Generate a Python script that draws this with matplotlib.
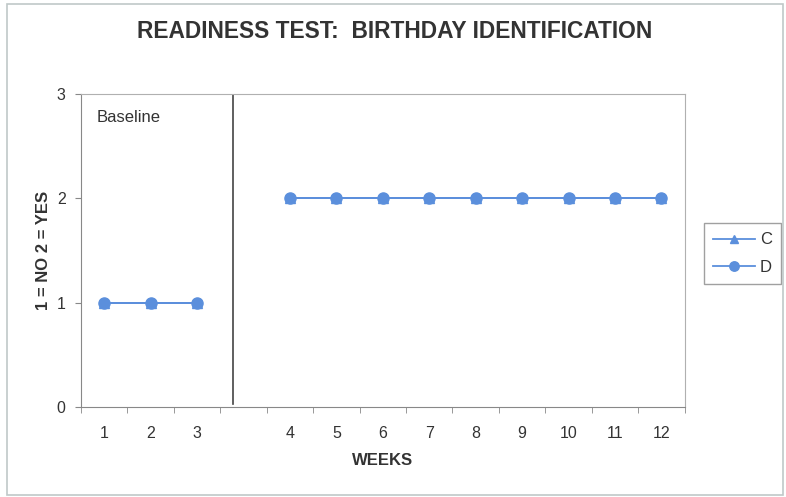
import numpy as np
import matplotlib.pyplot as plt
import matplotlib
from matplotlib.patches import Rectangle

matplotlib.rcParams['font.family'] = ['Liberation Sans', 'DejaVu Sans']

# slots on the x axis: 1-3 baseline, one empty slot, 4-12 intervention
week_labels = ["1", "2", "3", "", "4", "5", "6", "7", "8", "9", "10", "11", "12"]
base_weeks = [1, 2, 3]
base_C = [1, 1, 1]
base_D = [1, 1, 1]
treat_weeks = [4, 5, 6, 7, 8, 9, 10, 11, 12]
treat_C = [2, 2, 2, 2, 2, 2, 2, 2, 2]
treat_D = [2, 2, 2, 2, 2, 2, 2, 2, 2]
phase_line = 3.77

def slot(w):
    # week -> slot position (skip the empty slot after week 3)
    return [x if x <= 3 else x + 1 for x in w]

txt = "#333333"
blue = "#5b8fdc"

fig = plt.figure(figsize=(7.86, 4.97), dpi=100)
ax = fig.add_axes([0.103, 0.181, 0.768, 0.630])

ax.plot(slot(base_weeks), base_C, "-^", color=blue, ms=7, lw=1.3, label="C")
ax.plot(slot(treat_weeks), treat_C, "-^", color=blue, ms=7, lw=1.3)
ax.plot(slot(base_weeks), base_D, "-o", color=blue, ms=8, lw=1.3, label="D")
ax.plot(slot(treat_weeks), treat_D, "-o", color=blue, ms=8, lw=1.3)

ax.axvline(phase_line, ymin=0.01, ymax=1, color="#444444", lw=1.2)
ax.text(0.84, 2.77, "Baseline", fontsize=12, color=txt, va="center")

ax.set_xlim(0.5, 13.5)
ax.set_ylim(0, 3)
ax.set_yticks([0, 1, 2, 3])
ax.set_xticks(np.arange(1, 14))
ax.set_xticklabels(week_labels)
ax.set_xticks(np.arange(0.5, 14, 1), minor=True)
ax.tick_params(axis="x", which="major", length=0, pad=14, labelsize=11.5, labelcolor=txt)
ax.tick_params(axis="x", which="minor", length=4, color="#888888")
ax.tick_params(axis="y", length=4, color="#888888", labelsize=11.5, labelcolor=txt, pad=7)

for s in ["left", "bottom"]:
    ax.spines[s].set_color("#888888")
for s in ["top", "right"]:
    ax.spines[s].set_color("#b0b0b0")

ax.set_xlabel("WEEKS", fontsize=12, fontweight="bold", color=txt, labelpad=8)
ax.set_ylabel("1 = NO 2 = YES", fontsize=12, fontweight="bold", color=txt, labelpad=4)
fig.text(0.5026, 0.936, "READINESS TEST:  BIRTHDAY IDENTIFICATION", ha="center", va="center",
         fontsize=16.4, fontweight="bold", color=txt)

leg = ax.legend(loc="center left", bbox_to_anchor=(1.018, 0.49), fontsize=12, frameon=True,
                fancybox=False, edgecolor="#888888", handlelength=2.5, borderpad=0.55,
                labelspacing=0.75, handletextpad=0.3, markerscale=0.85)
for t in leg.get_texts():
    t.set_color(txt)

fig.patches.append(Rectangle((0.009, 0.004), 0.987, 0.988, transform=fig.transFigure,
                             fill=False, edgecolor="#c0c8c8", lw=1.2))

fig.savefig("out.png", dpi=100)
